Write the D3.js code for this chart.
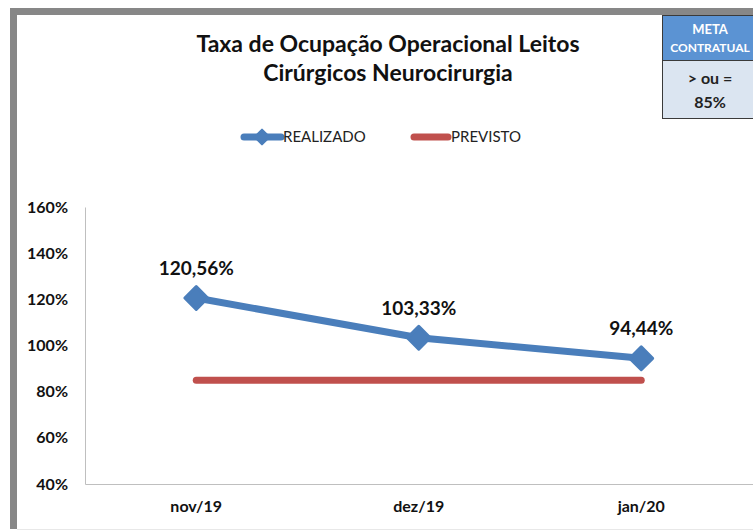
<!DOCTYPE html>
<html><head><meta charset="utf-8">
<script src="https://cdn.jsdelivr.net/npm/d3@7"></script>
<style>body{margin:0;background:#fff}svg{display:block}text{font-family:Lato,"Open Sans",sans-serif}</style>
</head><body>
<script>
const categories = ["nov/19","dez/19","jan/20"];
const realizado = [120.56, 103.33, 94.44];
const previsto = [85, 85, 85];
const yTicks = [40,60,80,100,120,140,160];
const dataLabels = ["120,56%","103,33%","94,44%"];
const titleLines = ["Taxa de Ocupação Operacional Leitos","Cirúrgicos Neurocirurgia"];

const W=753,H=531;
const svg=d3.select("body").append("svg").attr("width",W).attr("height",H);
svg.append("rect").attr("width",W).attr("height",H).attr("fill","#fff");
// frame borders
svg.append("rect").attr("x",10).attr("y",8).attr("width",W-10).attr("height",7).attr("fill","#878787");
svg.append("rect").attr("x",10).attr("y",8).attr("width",7).attr("height",521).attr("fill","#878787");
svg.append("line").attr("x1",17).attr("x2",W).attr("y1",529.5).attr("y2",529.5).attr("stroke","#e8e8e8");

// meta box
svg.append("rect").attr("x",662.5).attr("y",15.5).attr("width",95).attr("height",45).attr("fill","#5b93d3").attr("stroke","#3a3a3a");
svg.append("rect").attr("x",662.5).attr("y",60.5).attr("width",95).attr("height",58).attr("fill","#dbe5f1").attr("stroke","#3a3a3a");
svg.append("text").attr("x",710).attr("y",34).attr("text-anchor","middle").attr("fill","#fff").attr("font-weight","bold").attr("font-size",13).text("META");
svg.append("text").attr("x",710).attr("y",52).attr("text-anchor","middle").attr("fill","#fff").attr("font-weight","bold").attr("font-size",12).text("CONTRATUAL");
svg.append("text").attr("x",710).attr("y",84).attr("text-anchor","middle").attr("fill","#222").attr("font-weight","bold").attr("font-size",16).text("> ou =");
svg.append("text").attr("x",710).attr("y",108).attr("text-anchor","middle").attr("fill","#222").attr("font-weight","bold").attr("font-size",16).text("85%");

// title
titleLines.forEach((t,i)=>svg.append("text").attr("x",388).attr("y",52+i*29).attr("text-anchor","middle")
  .attr("font-weight","bold").attr("font-size",23).attr("fill","#111").text(t));

// scales
const x=d3.scaleBand().domain(categories).range([85,752.5]);
const y=d3.scaleLinear().domain([40,160]).range([484,207]);
const cx=d=>x(d)+x.bandwidth()/2;

// axes
const yAxis=svg.append("g").attr("transform","translate(85,0)").call(d3.axisLeft(y).tickValues(yTicks).tickSize(0).tickPadding(17).tickFormat(d=>d+"%"));
yAxis.select(".domain").attr("stroke","#bfbfbf");
yAxis.selectAll("text").attr("font-size",16).attr("font-weight","bold").attr("fill","#111").attr("font-family","Lato,sans-serif");
const xAxis=svg.append("g").attr("transform","translate(0,484)").call(d3.axisBottom(x).tickSize(0).tickPadding(17));
xAxis.select(".domain").attr("stroke","#bfbfbf");
xAxis.selectAll("text").attr("font-size",16).attr("font-weight","bold").attr("fill","#111").attr("font-family","Lato,sans-serif");

// previsto line
svg.append("path").datum(previsto).attr("fill","none").attr("stroke","#c0504d").attr("stroke-width",7).attr("stroke-linecap","round")
  .attr("d",d3.line().x((d,i)=>cx(categories[i])).y(d=>y(d)));
// realizado line
svg.append("path").datum(realizado).attr("fill","none").attr("stroke","#4a7ebb").attr("stroke-width",7).attr("stroke-linejoin","round")
  .attr("d",d3.line().x((d,i)=>cx(categories[i])).y(d=>y(d)));
svg.selectAll(".mk").data(realizado).join("path").attr("class","mk")
  .attr("d",d3.symbol().type(d3.symbolSquare).size(260)).attr("transform",(d,i)=>`translate(${cx(categories[i])},${y(d)}) rotate(45)`)
  .attr("fill","#4a7ebb").attr("stroke","#4a7ebb").attr("stroke-width",3).attr("stroke-linejoin","round");
svg.selectAll(".dl").data(realizado).join("text").attr("class","dl")
  .attr("x",(d,i)=>cx(categories[i])).attr("y",d=>y(d)-23).attr("text-anchor","middle")
  .attr("font-size",19).attr("font-weight","bold").attr("fill","#111").text((d,i)=>dataLabels[i]);

// legend
const lg=svg.append("g");
lg.append("line").attr("x1",244).attr("x2",281).attr("y1",137).attr("y2",137).attr("stroke","#4a7ebb").attr("stroke-width",7).attr("stroke-linecap","round");
lg.append("path").attr("d",d3.symbol().type(d3.symbolSquare).size(110)).attr("transform","translate(262,137) rotate(45)").attr("fill","#4a7ebb").attr("stroke","#4a7ebb").attr("stroke-width",2).attr("stroke-linejoin","round");
lg.append("text").attr("x",283).attr("y",142).attr("font-size",15).attr("fill","#222").text("REALIZADO");
lg.append("line").attr("x1",414).attr("x2",448).attr("y1",137).attr("y2",137).attr("stroke","#c0504d").attr("stroke-width",7).attr("stroke-linecap","round");
lg.append("text").attr("x",451).attr("y",142).attr("font-size",15).attr("fill","#222").text("PREVISTO");
</script>
</body></html>
